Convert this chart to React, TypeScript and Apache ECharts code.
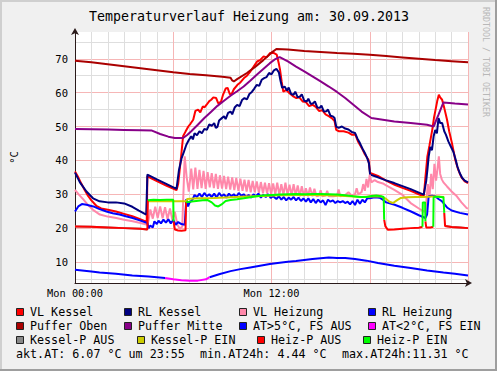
import React, { useEffect, useRef } from "react";
import * as echarts from "echarts";

const FONT = "'DejaVu Sans Mono', monospace";

const titleText = "Temperaturverlauf Heizung am: 30.09.2013";
const unitText = "°C";
const watermarkText = "RRDTOOL / TOBI OETIKER";

const xTickLabels: { [h: number]: string } = { 0: "Mon 00:00", 12: "Mon 12:00" };
const yGridValues = [5, 10, 15, 20, 25, 30, 35, 40, 45, 50, 55, 60, 65, 70, 75];
const yLabelValues = [10, 20, 30, 40, 50, 60, 70];

type Pt = [number, number];

const vlKessel: Pt[] = [
  [0, 36.7], [0.2, 35.0], [0.4, 33.0], [0.6, 31.2], [0.8, 29.5], [1.0, 28.2], [1.3, 26.6], [1.6, 25.8], [2.0, 25.4], [2.5, 24.9],
  [3.0, 24.2], [3.5, 23.5], [3.9, 22.8], [4.38, 21.8], [4.42, 35.3], [5.0, 33.9], [5.6, 32.5], [6.2, 31.2], [6.3, 33.0],
  [6.46, 40.2], [6.6, 47.1], [6.75, 48.5], [6.92, 50.0], [7.05, 50.8], [7.22, 52.0], [7.35, 54.6], [7.52, 55.0], [7.65, 54.2],
  [7.8, 55.9], [7.92, 55.7], [8.05, 56.5], [8.2, 57.5], [8.32, 57.9], [8.45, 58.6], [8.62, 58.4], [8.75, 56.8], [8.92, 57.4],
  [9.05, 59.5], [9.2, 61.2], [9.32, 61.4], [9.45, 59.6], [9.55, 59.4], [9.7, 61.0], [9.92, 62.3], [10.1, 63.0], [10.32, 64.3],
  [10.5, 65.0], [10.72, 66.3], [10.9, 67.6], [11.12, 69.2], [11.3, 69.6], [11.52, 70.7], [11.7, 70.4], [11.92, 71.7], [12.1, 71.8],
  [12.32, 71.2], [12.45, 68.5], [12.52, 66.8], [12.62, 63.3], [12.72, 60.3], [12.9, 60.8], [13.1, 59.8], [13.3, 59.0], [13.52, 58.4],
  [13.7, 58.6], [13.9, 57.4], [14.1, 57.2], [14.3, 56.0], [14.52, 56.4], [14.7, 55.8], [14.9, 54.6], [15.1, 54.8], [15.3, 53.6],
  [15.52, 53.0], [15.7, 52.4], [15.85, 51.6], [15.95, 49.0], [16.12, 48.6], [16.4, 48.6], [16.7, 48.2], [16.9, 47.6], [17.12, 47.6],
  [17.3, 45.4], [17.52, 43.6], [17.7, 41.8], [17.92, 40.2], [18.02, 36.3], [18.5, 35.4], [19.0, 34.0], [19.52, 32.8], [20.0, 31.9],
  [20.5, 31.0], [21.0, 30.0], [21.3, 29.4], [21.4, 35.0], [21.52, 41.2], [21.65, 44.5], [21.82, 49.1], [21.92, 52.5], [22.02, 55.0],
  [22.12, 57.5], [22.22, 59.4], [22.3, 58.6], [22.42, 57.9], [22.55, 55.5], [22.72, 52.0], [22.85, 48.6], [23.02, 45.1], [23.15, 42.0],
  [23.22, 40.2], [23.4, 37.3], [23.6, 35.0], [23.8, 33.8], [24, 33.3],
];

const rlKessel: Pt[] = [
  [0, 36.4], [0.3, 33.5], [0.7, 30.8], [1.1, 28.8], [1.5, 27.9], [2.0, 27.6], [2.5, 27.6], [3.0, 27.3], [3.5, 26.3], [3.9, 25.2],
  [4.35, 24.0], [4.42, 35.8], [5.0, 34.4], [5.6, 33.0], [6.2, 31.6], [6.35, 37.2], [6.5, 40.5], [6.65, 42.5], [6.8, 44.6],
  [6.95, 46.0], [7.1, 47.1], [7.2, 46.2], [7.3, 48.0], [7.45, 47.4], [7.6, 48.6], [7.75, 48.0], [7.9, 49.3], [8.05, 49.0],
  [8.2, 50.6], [8.35, 50.2], [8.5, 51.0], [8.6, 49.6], [8.7, 49.9], [8.8, 51.8], [8.95, 52.4], [9.1, 53.0], [9.2, 52.2],
  [9.35, 54.0], [9.5, 54.4], [9.6, 53.6], [9.75, 55.6], [9.9, 56.4], [10.05, 56.0], [10.2, 57.8], [10.35, 58.4], [10.5, 58.0],
  [10.65, 59.6], [10.8, 60.2], [10.95, 61.2], [11.1, 62.3], [11.25, 62.0], [11.4, 63.8], [11.55, 64.3], [11.7, 64.6], [11.85, 65.8],
  [12.0, 65.4], [12.15, 66.6], [12.3, 67.0], [12.45, 66.0], [12.55, 63.5], [12.65, 61.4], [12.8, 61.8], [12.95, 60.6], [13.05, 61.5],
  [13.2, 59.6], [13.35, 59.4], [13.45, 60.3], [13.6, 58.6], [13.75, 58.9], [13.85, 59.5], [14.0, 57.6], [14.15, 57.4], [14.25, 58.2],
  [14.4, 56.6], [14.55, 56.9], [14.65, 57.4], [14.8, 55.6], [14.95, 55.5], [15.05, 56.2], [15.2, 54.4], [15.35, 54.5], [15.45, 55.0],
  [15.6, 53.2], [15.75, 53.0], [15.85, 52.5], [15.95, 50.0], [16.1, 49.6], [16.3, 50.0], [16.5, 49.4], [16.7, 49.1], [16.9, 48.4],
  [17.1, 48.1], [17.25, 46.4], [17.4, 45.1], [17.55, 43.5], [17.7, 42.2], [17.85, 40.6], [17.95, 39.2], [18.02, 35.8], [18.5, 35.0],
  [19.0, 34.1], [19.5, 33.3], [20.0, 32.4], [20.5, 31.5], [21.0, 30.5], [21.3, 29.9], [21.45, 34.0], [21.52, 37.2], [21.6, 41.2],
  [21.7, 44.0], [21.8, 43.0], [21.9, 47.1], [22.0, 49.0], [22.1, 48.0], [22.2, 52.5], [22.3, 51.0], [22.42, 51.0], [22.55, 48.6],
  [22.65, 47.6], [22.8, 45.6], [22.95, 44.1], [23.1, 42.6], [23.25, 40.2], [23.35, 38.2], [23.5, 36.2], [23.65, 34.8], [23.8, 34.0],
  [24, 33.5],
];

const vlHeizung: Pt[] = [
  [0, 31.3], [0.25, 29.8], [0.52, 28.4], [0.8, 26.8], [1.1, 25.4], [1.52, 24.0], [2.0, 23.4], [2.52, 23.0], [3.0, 22.5], [3.52, 22.0],
  [4.0, 21.5], [4.42, 21.0], [4.5, 22.5], [4.6, 25.5], [4.75, 22.8], [4.9, 26.3], [5.05, 23.0], [5.2, 26.4], [5.35, 22.9], [5.5, 26.2],
  [5.65, 22.6], [5.8, 25.8], [5.95, 22.4], [6.1, 24.8], [6.25, 21.0], [6.4, 19.8], [6.55, 20.5], [6.7, 41.2], [6.82, 35.0], [6.95, 30.8],
  [7.1, 37.6], [7.22, 31.4], [7.35, 37.9], [7.48, 31.6], [7.6, 37.2], [7.73, 31.8], [7.85, 36.9], [7.98, 31.6], [8.1, 36.5],
  [8.23, 32.0], [8.35, 36.2], [8.48, 31.8], [8.6, 36.0], [8.73, 31.6], [8.85, 35.6], [8.98, 31.7], [9.1, 35.4], [9.23, 31.5],
  [9.35, 35.2], [9.48, 31.4], [9.6, 35.0], [9.73, 31.2], [9.85, 34.8], [9.98, 31.0], [10.1, 34.6], [10.23, 31.0], [10.35, 34.3],
  [10.48, 30.8], [10.6, 34.2], [10.73, 30.6], [10.85, 33.9], [10.98, 30.6], [11.1, 33.8], [11.23, 30.4], [11.35, 33.6], [11.48, 30.3],
  [11.6, 33.4], [11.73, 30.2], [11.85, 33.3], [11.98, 30.0], [12.1, 33.2], [12.23, 30.0], [12.35, 33.4], [12.48, 29.8], [12.6, 33.0],
  [12.73, 29.8], [12.85, 33.4], [12.98, 29.8], [13.1, 32.8], [13.23, 29.6], [13.35, 33.0], [13.48, 29.6], [13.6, 32.6], [13.73, 29.4],
  [13.85, 32.4], [13.98, 29.4], [14.1, 31.8], [14.23, 29.4], [14.35, 32.0], [14.5, 29.4], [14.62, 31.6], [14.75, 29.4], [14.9, 29.6],
  [15.0, 31.2], [15.1, 29.4], [15.3, 29.6], [15.4, 31.0], [15.5, 29.4], [15.8, 29.4], [16.0, 29.6], [16.1, 31.4], [16.2, 29.4],
  [16.5, 29.8], [16.7, 30.6], [16.9, 29.6], [17.1, 30.0], [17.2, 31.8], [17.3, 30.0], [17.5, 30.6], [17.6, 33.0], [17.7, 31.0],
  [17.8, 34.5], [17.9, 32.0], [18.0, 35.8], [18.1, 33.5], [18.3, 34.2], [18.5, 33.6], [18.8, 33.2], [19.0, 32.6], [19.5, 31.3],
  [20.0, 29.8], [20.5, 27.4], [21.0, 25.8], [21.3, 24.9], [21.4, 25.0], [21.55, 33.0], [21.65, 29.0], [21.75, 36.0], [21.85, 31.5],
  [21.95, 39.0], [22.05, 34.0], [22.15, 38.0], [22.22, 41.2], [22.3, 36.0], [22.4, 34.4], [22.5, 33.5], [22.72, 32.3], [23.0, 30.8],
  [23.32, 29.4], [23.6, 27.6], [23.92, 25.9], [24, 25.8],
];

const rlHeizung: Pt[] = [
  [0, 24.9], [0.2, 26.4], [0.42, 27.1], [0.7, 26.9], [1.12, 26.4], [1.5, 25.6], [1.92, 24.9], [2.3, 24.4], [2.72, 24.0], [3.1, 23.5],
  [3.52, 23.0], [4.0, 22.2], [4.42, 21.5], [4.5, 20.0], [4.6, 20.8], [4.75, 20.2], [4.85, 22.0], [5.0, 21.2], [5.1, 22.2], [5.25, 21.4],
  [5.4, 22.5], [5.55, 21.6], [5.7, 22.6], [5.85, 21.4], [6.0, 22.4], [6.15, 21.0], [6.3, 21.8], [6.5, 21.2], [6.7, 21.0], [6.8, 28.6],
  [6.9, 26.4], [7.0, 27.6], [7.1, 28.0], [7.2, 28.6], [7.3, 29.8], [7.45, 29.2], [7.6, 30.2], [7.75, 29.2], [7.9, 30.4], [8.05, 29.4],
  [8.2, 30.0], [8.35, 29.2], [8.5, 30.2], [8.65, 29.0], [8.8, 30.4], [8.95, 29.4], [9.1, 30.0], [9.25, 29.0], [9.4, 30.2], [9.55, 29.4],
  [9.7, 30.0], [9.85, 29.2], [10.0, 30.4], [10.15, 29.6], [10.3, 30.0], [10.45, 29.2], [10.6, 29.8], [10.75, 29.0], [10.9, 30.0],
  [11.05, 29.4], [11.2, 30.2], [11.35, 29.0], [11.5, 29.8], [11.65, 29.2], [11.8, 30.0], [11.95, 28.9], [12.1, 29.4], [12.3, 28.6],
  [12.45, 29.4], [12.6, 28.4], [12.75, 29.2], [12.9, 28.2], [13.05, 29.0], [13.2, 28.4], [13.35, 29.2], [13.5, 28.2], [13.65, 29.0],
  [13.8, 28.0], [13.95, 28.8], [14.1, 27.8], [14.25, 28.8], [14.4, 27.6], [14.55, 28.6], [14.7, 27.4], [14.85, 28.4], [15.0, 27.6],
  [15.15, 28.2], [15.3, 26.8], [15.45, 28.4], [15.6, 27.8], [15.75, 28.2], [15.9, 27.4], [16.05, 28.0], [16.2, 27.6], [16.35, 28.0],
  [16.5, 27.4], [16.65, 27.8], [16.8, 27.0], [16.95, 28.0], [17.1, 26.8], [17.25, 28.4], [17.4, 27.2], [17.55, 28.4], [17.7, 27.6],
  [17.85, 28.8], [18.0, 28.8], [18.3, 29.1], [18.6, 29.0], [18.8, 28.4], [19.0, 27.6], [19.52, 26.9], [20.0, 26.0], [20.52, 24.9],
  [21.0, 23.8], [21.4, 23.0], [21.5, 24.0], [21.6, 29.4], [21.8, 29.6], [22.0, 29.4], [22.2, 28.6], [22.4, 28.0], [22.72, 26.1],
  [23.0, 25.2], [23.5, 24.5], [24, 24.0],
];

const pufferOben: Pt[] = [
  [0, 69.4], [1, 69.0], [2, 68.4], [3, 67.8], [4, 67.2], [5, 66.6], [6, 66.0], [7, 65.5], [8, 65.1], [9, 64.7], [9.5, 64.4],
  [9.6, 63.6], [9.7, 63.3], [9.9, 64.0], [10.5, 65.8], [11.0, 67.6], [11.5, 69.6], [12.0, 71.8], [12.3, 72.9], [13, 72.7],
  [14, 72.3], [15, 72.0], [16, 71.7], [17, 71.5], [18, 71.2], [19, 70.8], [20, 70.4], [21, 70.0], [22, 69.6], [23, 69.3], [24, 69.0],
];

const pufferMitte: Pt[] = [
  [0, 49.3], [1, 49.2], [2, 49.1], [3, 49.0], [4, 48.9], [4.7, 48.8], [5.2, 47.8], [5.7, 47.0], [6.1, 46.6], [6.6, 46.6],
  [6.85, 47.5], [7.1, 48.6], [7.5, 50.5], [7.9, 52.5], [8.3, 54.3], [8.7, 56.1], [9.1, 57.6], [9.5, 59.1], [9.9, 60.4], [10.3, 61.8],
  [10.7, 63.5], [11.1, 65.3], [11.5, 67.0], [11.9, 68.7], [12.2, 69.8], [12.5, 70.5], [13.0, 69.2], [13.5, 67.7], [14.0, 66.3],
  [14.5, 64.8], [15.0, 63.3], [15.5, 61.8], [16.0, 60.2], [16.5, 58.4], [17.0, 56.4], [17.5, 54.4], [18.1, 52.5], [18.8, 52.0],
  [19.5, 51.5], [20.5, 51.0], [21.5, 50.5], [21.9, 50.0], [22.2, 53.5], [22.5, 57.1], [23.2, 56.8], [24, 56.5],
];

const aussenTemp: Pt[] = [
  [0, 7.7], [1, 7.2], [1.5, 6.9], [2.5, 6.5], [3.5, 6.0], [4.5, 5.7], [5.5, 5.3], [6.0, 4.9], [6.5, 4.6], [7.0, 4.45], [7.5, 4.5],
  [8.0, 4.9], [8.22, 5.5], [8.8, 6.4], [9.5, 7.3], [10.1, 7.9], [10.7, 8.4], [11.3, 8.9], [11.9, 9.4], [12.5, 9.8], [13.0, 10.1],
  [13.5, 10.3], [14.0, 10.6], [14.5, 10.9], [15.0, 11.1], [15.5, 11.3], [16.0, 11.2], [16.5, 11.2], [17.1, 10.9], [17.8, 10.4],
  [18.5, 9.7], [19.5, 8.9], [20.5, 8.2], [21.5, 7.5], [22.5, 6.9], [23.2, 6.5], [24, 6.0],
];
const frostWindow: [number, number] = [5.5, 8.22];

const kesselPAus: Pt[][] = [
  [[0, 20.5], [1, 20.4], [2, 20.2], [3, 20.0], [4, 19.8], [4.42, 19.6]],
  [[22.6, 20.6], [23.0, 20.3], [23.5, 20.2], [24, 20.0]],
];
const kesselPEin: Pt[][] = [
  [[4.45, 27.9], [5.0, 27.9], [5.5, 27.9], [6.0, 27.9], [6.5, 27.9], [6.8, 27.9], [6.85, 28.6], [7.5, 28.8], [8.5, 28.9], [9.5, 29.1],
   [10.5, 29.3], [11.5, 29.5], [12.5, 29.7], [13.5, 29.8], [14.5, 29.8], [15.5, 29.7], [16.5, 29.5], [17.5, 29.2], [18.2, 29.3],
   [18.7, 29.3], [18.95, 28.8], [19.2, 27.8], [19.42, 27.4], [19.65, 28.2], [19.9, 28.9], [20.3, 29.1], [20.8, 29.2], [21.3, 29.2],
   [21.8, 29.3], [22.3, 29.3], [22.55, 29.2]],
];
const heizPAus: Pt[][] = [
  [[0, 20.5], [1, 20.4], [2, 20.2], [3, 20.0], [4, 19.8], [4.42, 19.6], [4.45, 28.2]],
  [[6.02, 22.0], [6.1, 19.6], [6.3, 19.3], [6.5, 19.2], [6.75, 19.4], [6.78, 27.6]],
  [[18.88, 22.5], [18.95, 20.6], [19.1, 19.5], [19.5, 19.6], [20.0, 19.8], [20.5, 20.0], [21.0, 20.1], [21.22, 20.4]],
  [[21.4, 22.0], [21.45, 20.2], [21.7, 20.2], [21.88, 20.4]],
  [[22.55, 24.5], [22.6, 20.6], [23.0, 20.3], [23.5, 20.2], [24, 20.0]],
];
const heizPEin: Pt[][] = [
  [[4.45, 28.2], [4.8, 28.4], [5.2, 28.3], [5.6, 28.4], [6.0, 28.4], [6.02, 22.0]],
  [[6.78, 27.6], [7.0, 27.8], [7.4, 28.0], [7.8, 28.2], [8.1, 28.3], [8.35, 27.6], [8.55, 26.7], [8.75, 26.4], [8.95, 27.0],
   [9.2, 28.0], [9.5, 28.3], [9.9, 28.5], [10.3, 28.8], [10.8, 29.2], [11.2, 29.5], [11.6, 29.7], [12.0, 29.8], [12.5, 29.9],
   [13.0, 30.0], [13.5, 30.1], [14.0, 30.0], [14.5, 30.1], [15.0, 30.1], [15.5, 30.0], [16.0, 29.9], [16.5, 29.7], [17.0, 29.4],
   [17.4, 29.2], [17.8, 29.2], [18.1, 29.5], [18.4, 29.6], [18.7, 29.4], [18.85, 29.2], [18.88, 22.5]],
  [[21.22, 20.4], [21.24, 27.6], [21.38, 27.6], [21.4, 22.0]],
  [[21.88, 20.4], [21.9, 29.1], [22.1, 29.3], [22.3, 29.2], [22.5, 29.1], [22.55, 24.5]],
];

const legendRows: string[][] = [
  ["VL Kessel", "RL Kessel", "VL Heizung", "RL Heizung"],
  ["Puffer Oben", "Puffer Mitte", "AT>5°C, FS AUS", "AT<2°C, FS EIN"],
  ["Kessel-P AUS", "Kessel-P EIN", "Heiz-P AUS", "Heiz-P EIN"],
];
const statsTexts = ["akt.AT: 6.07 °C um 23:55", "min.AT24h: 4.44 °C", "max.AT24h:11.31 °C"];

const COLORS: { [k: string]: string } = {
  "VL Kessel": "#FF0000",
  "RL Kessel": "#000080",
  "VL Heizung": "#FF88AA",
  "RL Heizung": "#0000FF",
  "Puffer Oben": "#AA0000",
  "Puffer Mitte": "#880088",
  "AT>5°C, FS AUS": "#0000FF",
  "AT<2°C, FS EIN": "#FF00FF",
  "Kessel-P AUS": "#888888",
  "Kessel-P EIN": "#CCCC00",
  "Heiz-P AUS": "#FF0000",
  "Heiz-P EIN": "#00FF00",
};

function joinSegments(segs: Pt[][]): (number | null)[][] {
  const out: (number | null)[][] = [];
  segs.forEach((s, i) => {
    if (i > 0) {
      const prev = segs[i - 1][segs[i - 1].length - 1];
      out.push([(prev[0] + s[0][0]) / 2, null]);
    }
    s.forEach((p) => out.push(p));
  });
  return out;
}

export default function App() {
  const ref = useRef<HTMLDivElement>(null);

  useEffect(() => {
    if (!ref.current) return;
    const chart = echarts.init(ref.current, undefined, { renderer: "svg" });

    const minorGrid = "#DEDEDE";
    const majorGrid = "#F6B6B6";
    const axisColor = "#2A1A1A";

    const atOutside: Pt[][] = [
      aussenTemp.filter((p) => p[0] <= frostWindow[0]),
      aussenTemp.filter((p) => p[0] >= frostWindow[1]),
    ];
    const atInside: Pt[] = aussenTemp.filter((p) => p[0] >= frostWindow[0] && p[0] <= frostWindow[1]);

    const line = (name: string, data: any[], width = 2) => ({
      type: "line",
      name,
      data,
      showSymbol: false,
      symbol: "none",
      silent: true,
      connectNulls: false,
      animation: false,
      lineStyle: { color: COLORS[name], width },
      itemStyle: { color: COLORS[name] },
    });

    const graphics: any[] = [];
    graphics.push({ type: "rect", shape: { x: 0, y: 0, width: 497, height: 2 }, style: { fill: "#CFCFCF" }, silent: true });
    graphics.push({ type: "rect", shape: { x: 0, y: 0, width: 2, height: 371 }, style: { fill: "#CFCFCF" }, silent: true });
    graphics.push({ type: "rect", shape: { x: 495, y: 0, width: 2, height: 371 }, style: { fill: "#9E9E9E" }, silent: true });
    graphics.push({ type: "rect", shape: { x: 0, y: 369, width: 497, height: 2 }, style: { fill: "#9E9E9E" }, silent: true });
    graphics.push({
      type: "text", x: 249, y: 16.5,
      style: { text: titleText, font: `13.3px ${FONT}`, fill: "#000", align: "center", verticalAlign: "middle" },
      silent: true,
    });
    graphics.push({
      type: "text", x: 486, y: 62, rotation: -Math.PI / 2,
      style: { text: watermarkText, font: `8.3px ${FONT}`, fill: "#B8B8B8", align: "center", verticalAlign: "middle" },
      silent: true,
    });
    const colX = [
      [16, 124, 239, 368],
      [16, 124, 239, 368],
      [16, 137, 257, 363],
    ];
    const rowY = [312, 326, 340];
    legendRows.forEach((row, r) => {
      row.forEach((name, c) => {
        const bx = colX[r][c];
        const cy = rowY[r];
        graphics.push({
          type: "rect", shape: { x: bx + 0.5, y: cy - 3.5, width: 7, height: 7 },
          style: { fill: COLORS[name], stroke: "#222", lineWidth: 1 }, silent: true,
        });
        graphics.push({
          type: "text", x: bx + 14, y: cy,
          style: { text: name, font: `11.7px ${FONT}`, fill: "#000", verticalAlign: "middle" }, silent: true,
        });
      });
    });
    const statsX = [16, 200, 342];
    statsTexts.forEach((t, i) => {
      graphics.push({
        type: "text", x: statsX[i], y: 353.5,
        style: { text: t, font: `11.7px ${FONT}`, fill: "#000", verticalAlign: "middle" }, silent: true,
      });
    });

    chart.setOption({
      animation: false,
      backgroundColor: "#F0F0F0",
      grid: { left: 68, top: 32, width: 400, height: 251, show: true, backgroundColor: "#FFFFFF", borderWidth: 0 },
      xAxis: {
        type: "value", min: 0, max: 24, interval: 1,
        axisLine: {
          show: true, onZero: false, lineStyle: { color: axisColor, width: 1 },
          symbol: ["none", "arrow"], symbolSize: [6, 7], symbolOffset: [0, 4],
        },
        axisTick: { show: false },
        axisLabel: {
          formatter: (v: number) => xTickLabels[v] ?? "",
          fontFamily: FONT, fontSize: 10.3, color: "#000", margin: 5, hideOverlap: false,
          showMinLabel: true, showMaxLabel: true,
        },
        splitLine: { show: true, lineStyle: { color: [majorGrid, minorGrid, minorGrid, minorGrid, minorGrid, minorGrid], width: 1 } },
      },
      yAxis: {
        type: "value", min: 3.8, max: 77.9,
        name: unitText, nameLocation: "middle", nameGap: 56, nameRotate: 90,
        nameTextStyle: { fontFamily: FONT, fontSize: 10.5, color: "#000" },
        axisLine: {
          show: true, onZero: false, lineStyle: { color: axisColor, width: 1 },
          symbol: ["none", "arrow"], symbolSize: [6, 7], symbolOffset: [0, 4],
        },
        axisTick: { show: false, customValues: yGridValues },
        axisLabel: { customValues: yLabelValues, fontFamily: FONT, fontSize: 10.5, color: "#000", margin: 7 },
        splitLine: { show: true, lineStyle: { color: [minorGrid, majorGrid], width: 1 } },
      },
      graphic: graphics,
      series: [
        line("VL Kessel", vlKessel),
        line("RL Kessel", rlKessel),
        line("VL Heizung", vlHeizung),
        line("RL Heizung", rlHeizung),
        line("Puffer Oben", pufferOben),
        line("Puffer Mitte", pufferMitte),
        line("AT>5°C, FS AUS", joinSegments(atOutside)),
        line("AT<2°C, FS EIN", atInside),
        line("Kessel-P AUS", joinSegments(kesselPAus)),
        line("Kessel-P EIN", joinSegments(kesselPEin)),
        line("Heiz-P AUS", joinSegments(heizPAus)),
        line("Heiz-P EIN", joinSegments(heizPEin)),
      ],
    });

    return () => chart.dispose();
  }, []);

  return (
    <div
      ref={ref}
      style={{ position: "absolute", left: 0, top: 0, width: 497, height: 371 }}
    />
  );
}
